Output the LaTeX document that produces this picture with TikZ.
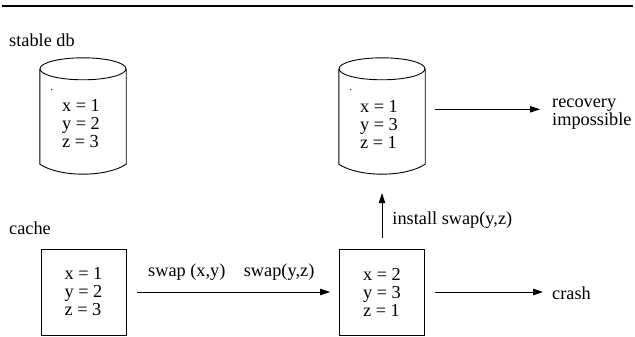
\documentclass[tikz,border=0pt]{standalone}
\usepackage{fontspec}
\setmainfont{Liberation Serif}
\usetikzlibrary{positioning,arrows.meta}

\begin{document}
\begin{tikzpicture}[x=1pt, y=1pt, font=\fontsize{18.3}{18}\selectfont,
  box/.style={draw, line width=0.9pt, minimum width=85pt, minimum height=86pt, inner sep=0pt, align=left},
  dbbody/.style={minimum width=86pt, minimum height=95pt, inner sep=0pt},
  vals/.style={align=left, inner sep=0pt},
  lbl/.style={inner sep=0pt, anchor=base west},
  arr/.style={-{Triangle[length=10pt,width=6.5pt]}, line width=0.8pt}]
\useasboundingbox (0,0) rectangle (635,337);
\draw[line width=2pt] (2,330.5) -- (633,330.5);
% stable storage
\node[lbl] (stabletitle) at (9,290.3) {stable db};
\node[dbbody] (olddb) at (83,220.5) {};
\node[dbbody] (newdb) at (382,220.5) {};
\foreach \d in {olddb,newdb} {
  \draw[line width=0.9pt] (\d.north) ellipse [x radius=43pt, y radius=11pt];
  \draw[line width=0.9pt] (\d.north west) -- (\d.south west)
    .. controls +(20,-13.3) and +(-20,-13.3) .. (\d.south east) -- (\d.north east);
  \fill ([shift={(12,-21)}]\d.north west) circle (0.6pt);
}
\coordinate (newdbbot) at ([yshift=-10pt]newdb.south);
\node[vals] (oldvals) at ([xshift=-2pt,yshift=-7.5pt]olddb.center) {x = 1\\y = 2\\z = 3};
\node[vals] (newvals) at ([xshift=-3pt,yshift=-7.5pt]newdb.center) {x = 1\\y = 3\\z = 1};
\node[vals, anchor=west, font=\fontsize{18.3}{15}\selectfont] (recov) at (552,222.7) {recovery\\impossible};
\coordinate (recovin) at ([yshift=5pt]recov.west);
% volatile cache
\node[lbl] (cachetitle) at (9,102) {cache};
\node[box] (oldcache) at (83.5,45) {x = 1\\y = 2\\z = 3};
\node[box] (newcache) at (382,45) {x = 2\\y = 3\\z = 1};
\node[lbl] (crash) at (552,37) {crash};
\draw[arr, shorten <=11pt, shorten >=9pt] (oldcache) --
  node[above=8pt, pos=.284] {swap (x,y)} node[above=8pt, pos=.718] {swap(y,z)} (newcache);
\draw[arr, shorten <=10pt, shorten >=9pt] (newcache.east) -- (newcache.east -| crash.west);
\draw[arr, shorten <=11pt, shorten >=19pt] (newcache.north) --
  node[right=6.7pt, pos=.38] {install swap(y,z)} (newdbbot);
\draw[arr, shorten <=10pt, shorten >=12pt] (newdb.east |- recovin) -- (recovin);
\end{tikzpicture}
\end{document}
